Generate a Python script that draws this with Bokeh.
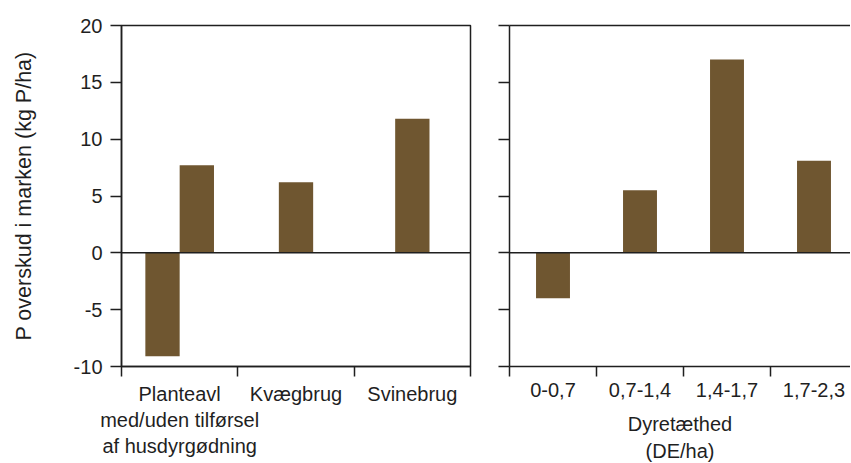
from bokeh.plotting import figure
from bokeh.layouts import row
from bokeh.models import Range1d, FixedTicker, LinearAxis, Span
from bokeh.embed import file_html
from bokeh.resources import INLINE

# ---- data ----
left_categories = ["Planteavl\nmed/uden tilførsel\naf husdyrgødning", "Kvægbrug", "Svinebrug"]
planteavl_values = [-9.1, 7.7]          # two bars in the first group
left_single_values = [None, 6.2, 11.8]  # Kvægbrug, Svinebrug

right_categories = ["0-0,7", "0,7-1,4", "1,4-1,7", "1,7-2,3"]
right_values = [-4.0, 5.5, 17.0, 8.1]
right_axis_title = "Dyretæthed\n(DE/ha)"
y_title = "P overskud i marken (kg P/ha)"
y_ticks = [-10, -5, 0, 5, 10, 15, 20]
y_tick_labels = ["-10", "-5", "0", "5", "10", "15", "20"]

BAR = "#6f5630"
INK = "#1f1f1f"
FONT = "Liberation Sans"
FS = "20px"


def style_axes(p):
    for ax in p.xaxis:
        ax.axis_line_color = INK
        ax.axis_line_width = 1.5
        ax.major_tick_line_color = None
        ax.major_tick_out = 10
        ax.major_tick_in = 0
        ax.minor_tick_line_color = INK
        ax.minor_tick_line_width = 1.5
        ax.minor_tick_out = 10
        ax.minor_tick_in = 0
        ax.major_label_text_font = FONT
        ax.major_label_text_font_size = FS
        ax.major_label_text_color = INK
        ax.major_label_standoff = 6
        ax.major_label_text_line_height = 1.2
        ax.axis_label_text_font = FONT
        ax.axis_label_text_font_size = FS
        ax.axis_label_text_font_style = "normal"
        ax.axis_label_text_color = INK
        ax.axis_label_text_line_height = 1.25
        ax.axis_label_standoff = 13
    for ax in p.yaxis:
        ax.ticker = FixedTicker(ticks=y_ticks)
        ax.axis_line_color = INK
        ax.axis_line_width = 1.5
        ax.major_tick_line_color = INK
        ax.major_tick_line_width = 1.5
        ax.major_tick_out = 11
        ax.major_tick_in = 0
        ax.minor_tick_line_color = None
        ax.major_label_text_font = FONT
        ax.major_label_text_font_size = FS
        ax.major_label_text_color = INK
        ax.major_label_standoff = 8
        ax.axis_label_text_font = FONT
        ax.axis_label_text_font_size = "21.5px"
        ax.axis_label_text_font_style = "normal"
        ax.axis_label_text_color = INK
    p.grid.visible = False
    p.add_layout(Span(location=0, dimension="width", line_color=INK, line_width=1.5))


# ---- left panel ----
nL = len(left_categories)
p1 = figure(output_backend="svg", toolbar_location=None,
            frame_width=349, frame_height=341,
            min_border_left=121, min_border_right=11, min_border_top=25, min_border_bottom=10,
            x_range=Range1d(0, nL), y_range=Range1d(y_ticks[0], y_ticks[-1]),
            outline_line_color=INK, outline_line_width=1.5)
bw = 0.295
pair_x = [0.5 - bw / 2, 0.5 + bw / 2]
p1.vbar(x=pair_x, top=planteavl_values, bottom=0, width=bw, fill_color=BAR, line_color=None)
sx = [i + 0.5 for i, v in enumerate(left_single_values) if v is not None]
sv = [v for v in left_single_values if v is not None]
p1.vbar(x=sx, top=sv, bottom=0, width=bw, fill_color=BAR, line_color=None)

p1.xaxis.ticker = FixedTicker(ticks=[i + 0.5 for i in range(nL)], minor_ticks=list(range(nL + 1)))
p1.xaxis.major_label_overrides = {i + 0.5: c for i, c in enumerate(left_categories)}
p1.yaxis.axis_label = y_title
style_axes(p1)
p1.yaxis.major_label_overrides = dict(zip(y_ticks, y_tick_labels))
p1.yaxis.axis_label_standoff = 35

# ---- right panel ----
nR = len(right_categories)
p2 = figure(output_backend="svg", toolbar_location=None,
            frame_width=341, frame_height=341,
            min_border_left=28, min_border_right=0, min_border_top=25, min_border_bottom=10,
            x_range=Range1d(0, 341 / 87), y_range=Range1d(y_ticks[0], y_ticks[-1]),
            outline_line_color=None)
p2.vbar(x=[i + 0.5 for i in range(nR)], top=right_values, bottom=0, width=0.39,
        fill_color=BAR, line_color=None)
p2.xaxis.ticker = FixedTicker(ticks=[i + 0.5 for i in range(nR)], minor_ticks=list(range(nR + 1)))
p2.xaxis.major_label_overrides = {i + 0.5: c for i, c in enumerate(right_categories)}
p2.xaxis.axis_label = right_axis_title
top_ax = LinearAxis(ticker=FixedTicker(ticks=[]), axis_line_color=INK, axis_line_width=1.5,
                    major_tick_out=0, minor_tick_out=0, major_label_standoff=0)
p2.add_layout(top_ax, "above")
style_axes(p2)
top_ax.ticker = FixedTicker(ticks=[])
top_ax.major_tick_out = 0
top_ax.minor_tick_out = 0
top_ax.major_label_standoff = 0
top_ax.axis_label = None
p2.yaxis.major_label_overrides = {t: "" for t in y_ticks}
p2.yaxis.major_label_standoff = 0

layout = row(p1, p2, spacing=0)
open("out.html", "w").write(file_html(layout, INLINE))
